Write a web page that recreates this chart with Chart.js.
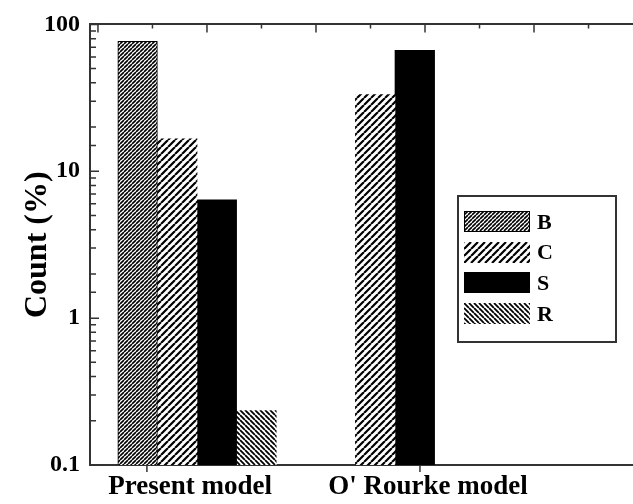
<!DOCTYPE html>
<html>
<head>
<meta charset="utf-8">
<script src="https://cdn.jsdelivr.net/npm/chart.js@4.4.1/dist/chart.umd.min.js"></script>
<style>
body { margin: 0; background: #fff; }
#wrap { position: relative; width: 633px; height: 504px; }
#legendBox { position: absolute; left: 457px; top: 195px; width: 156px; height: 144px;
	border: 2px solid #333; background: #fff;
	font: bold 22px "Liberation Serif", "Times New Roman", serif; color: #000; }
.item { position: absolute; left: 5px; height: 21px; display: flex; align-items: center; }
.item canvas { display: block; margin-right: 7px; }
</style>
</head>
<body>
<div id="wrap">
	<canvas id="chart"></canvas>
	<div id="legendBox"></div>
</div>
<script>
var categories = ["Present model", "O' Rourke model"];
var groupX = [1, 2];
var seriesNames = ["B", "C", "S", "R"];
var valuesB = [76.6, null];
var valuesC = [16.6, 33.3];
var valuesS = [6.4, 66.7];
var valuesR = [0.235, null];
var yTickValues = [0.1, 1, 10, 100];
var xLabelAt = [0.965, 2.167];
var xTickAt = [0.747, 2.126];

var serif = '"Liberation Serif", "Times New Roman", serif';

// diagonal hatch, back = "\" direction
function makeHatch(ctx, period, width, back)
{
	if (period == 0) return "#000";
	var c = document.createElement("canvas");
	c.width = period;
	c.height = period;
	var g = c.getContext("2d");
	g.fillStyle = "#fff";
	g.fillRect(0, 0, period, period);
	g.strokeStyle = "#000";
	g.lineWidth = width;
	g.beginPath();
	for (var k = -1; k <= 1; k++)
	{
		if (back) { g.moveTo(k * period, 0); g.lineTo(k * period + period, period); }
		else { g.moveTo(k * period, period); g.lineTo(k * period + period, 0); }
	}
	g.stroke();
	return ctx.createPattern(c, "repeat");
}

// period, line width, direction, outline
var looks = [[4, 1.6, false, 1], [7, 2.2, false, 0], [0, 0, false, 0], [5, 1.8, true, 0]];

function isDecade(v)
{
	var l = Math.log10(v);
	return Math.abs(l - Math.round(l)) < 1e-6;
}

var canvas = document.getElementById("chart");
var ctx = canvas.getContext("2d");
var allValues = [valuesB, valuesC, valuesS, valuesR];

var datasets = [];
for (var i = 0; i < seriesNames.length; i++)
{
	var vals = allValues[i];
	datasets.push({
		label: seriesNames[i],
		data: groupX.map(function(x, j) { return {x: x, y: vals[j]}; }),
		backgroundColor: makeHatch(ctx, looks[i][0], looks[i][1], looks[i][2]),
		borderColor: "#000",
		borderWidth: looks[i][3],
		barThickness: 39.6
	});
}

var frameTicks = {
	id: "frameTicks",
	afterDraw: function(chart)
	{
		var c = chart.ctx, a = chart.chartArea;
		var ys = chart.scales.y, xs = chart.scales.x, ts = chart.scales.x2;
		c.save();
		c.strokeStyle = "#333";
		c.lineWidth = 1.5;
		c.beginPath();
		ys.ticks.forEach(function(t) {
			var p = ys.getPixelForValue(t.value);
			var len = isDecade(t.value) ? 9 : 6;
			c.moveTo(a.left, p); c.lineTo(a.left + len, p);
		});
		ts.ticks.forEach(function(t) {
			var p = ts.getPixelForValue(t.value);
			var len = Number.isInteger(t.value) ? 8 : 4;
			c.moveTo(p, a.top); c.lineTo(p, a.top + len);
		});
		xTickAt.forEach(function(v) {
			var p = xs.getPixelForValue(v);
			c.moveTo(p, a.bottom); c.lineTo(p, a.bottom + 7);
		});
		c.stroke();
		c.restore();
	}
};

new Chart(canvas, {
	type: "bar",
	data: { datasets: datasets },
	options: {
		responsive: true,
		maintainAspectRatio: false,
		animation: false,
		layout: { padding: { top: 22, right: 0, bottom: 0, left: 0 } },
		plugins: { legend: { display: false }, tooltip: { enabled: false } },
		scales: {
			x: {
				type: "linear", position: "bottom", min: 0.4596, max: 3.202, offset: false,
				afterFit: function(s) { s.height = 39; },
				afterBuildTicks: function(s) { s.ticks = xLabelAt.map(function(v) { return {value: v}; }); },
				grid: { display: false, drawTicks: false },
				border: { display: true, color: "#333", width: 2 },
				ticks: {
					padding: 6, autoSkip: false, maxRotation: 0, color: "#000",
					font: { family: serif, size: 27, weight: "bold" },
					callback: function(v, i) { return categories[i]; }
				}
			},
			x2: {
				type: "linear", position: "top", min: -0.073, max: 4.908, offset: false,
				afterFit: function(s) { s.height = 0; },
				grid: { display: false, drawTicks: false },
				border: { display: true, color: "#333", width: 2 },
				ticks: { display: false, stepSize: 0.5, includeBounds: false }
			},
			y: {
				type: "logarithmic", position: "left", min: 0.1, max: 100,
				afterFit: function(s) { s.width = 90; },
				grid: { display: false, drawTicks: false },
				border: { display: true, color: "#333", width: 2 },
				ticks: {
					padding: 10, autoSkip: false, color: "#000",
					font: { family: serif, size: 24, weight: "bold" },
					callback: function(v) {
						for (var k = 0; k < yTickValues.length; k++)
							if (Math.abs(v - yTickValues[k]) < 1e-9) return String(yTickValues[k]);
						return "";
					}
				},
				title: {
					display: true, text: "Count (%)", color: "#000",
					font: { family: serif, size: 32, weight: "bold" },
					padding: { top: 19, bottom: 0 }
				}
			}
		}
	},
	plugins: [frameTicks]
});

// legend
var box = document.getElementById("legendBox");
for (var i = 0; i < seriesNames.length; i++)
{
	var item = document.createElement("div");
	item.className = "item";
	item.style.top = (14 + i * 30.7) + "px";
	var sw = document.createElement("canvas");
	sw.width = 66;
	sw.height = 21;
	var g = sw.getContext("2d");
	g.fillStyle = makeHatch(g, looks[i][0], looks[i][1], looks[i][2]);
	g.fillRect(0, 0, 66, 21);
	if (looks[i][3] > 0)
	{
		g.strokeStyle = "#000";
		g.lineWidth = 1;
		g.strokeRect(0.5, 0.5, 65, 20);
	}
	var txt = document.createElement("span");
	txt.innerText = seriesNames[i];
	item.appendChild(sw);
	item.appendChild(txt);
	box.appendChild(item);
}
</script>
</body>
</html>
